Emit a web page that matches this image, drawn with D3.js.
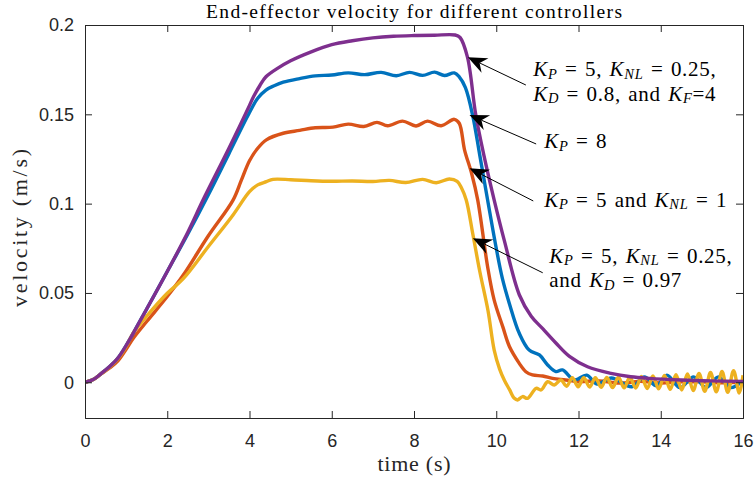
<!DOCTYPE html>
<html><head><meta charset="utf-8">
<script src="https://cdn.jsdelivr.net/npm/d3@7"></script>
<style>body{margin:0;background:#fff}</style>
</head><body><svg id="c" width="754" height="482"></svg>
<script>
// ---------- data ----------
const xTicks = [0, 2, 4, 6, 8, 10, 12, 14, 16];
const yTicks = [0, 0.05, 0.1, 0.15, 0.2];
const yTickLabels = ["0", "0.05", "0.1", "0.15", "0.2"];

const tPurple = [0,0.2,0.4,0.6,0.8,1,1.5,2,2.5,2.87,3.5,4,4.1,4.25,4.4,4.7,5,5.5,6,6.5,7,7.5,8,8.5,9,9.12,9.3,9.5,9.7,9.95,10.2,10.56,10.85,11.13,11.45,11.78,12.22,12.79,13.27,13.72,14.5,15.2,16];
const vPurple = [0,0.0015,0.005,0.0088,0.0135,0.0205,0.041,0.062,0.084,0.102,0.131,0.155,0.160,0.166,0.171,0.176,0.180,0.185,0.189,0.1912,0.1928,0.1937,0.1941,0.1943,0.1944,0.193,0.182,0.150,0.127,0.102,0.079,0.049,0.037,0.030,0.022,0.0145,0.0087,0.005,0.0031,0.0022,0.0013,0.0008,0.0005];

const tBlue = [0,0.2,0.4,0.6,0.8,1,1.5,2,2.5,3,3.5,4,4.2,4.4,4.6,4.82,5.22,5.6,6.0,6.4,6.8,7.2,7.57,7.89,8.21,8.5,8.74,8.98,9.1,9.25,9.43,9.6,9.79,10.0,10.15,10.32,10.56,10.8,11.05,11.25,11.45,11.61,11.9,12.2,12.45,12.8,13.3,13.6,13.9,14.15,14.47,14.8,15.1,15.4,15.7,16];
const vBlue = [0,0.0015,0.005,0.0088,0.0135,0.0205,0.041,0.062,0.083,0.105,0.128,0.151,0.159,0.1636,0.166,0.168,0.170,0.1715,0.172,0.1732,0.1722,0.1735,0.1716,0.1735,0.1718,0.1736,0.1717,0.1732,0.171,0.165,0.149,0.127,0.102,0.075,0.058,0.044,0.0274,0.018,0.0153,0.0097,0.006,0.0069,0.0013,0.004,-0.001,0.0024,-0.0025,0.003,-0.002,0.004,-0.003,0.003,-0.003,0.003,-0.003,0.001];

const tOrange = [0,0.2,0.4,0.6,0.8,1,1.17,1.5,2,2.39,3,3.6,3.8,4,4.2,4.41,4.82,5.22,5.6,6.03,6.4,6.78,7.1,7.36,7.72,8.05,8.33,8.66,8.98,9.1,9.23,9.4,9.55,9.79,9.95,10.16,10.32,10.56,10.72,10.88,11.13,11.37,11.69,12,12.5,13,13.5,14,14.5,15,15.5,16];
const vOrange = [0,0.0015,0.0048,0.008,0.012,0.0185,0.0245,0.034,0.048,0.060,0.082,0.102,0.113,0.124,0.131,0.1357,0.1394,0.141,0.1425,0.1428,0.1445,0.1432,0.1455,0.1436,0.1462,0.1435,0.1462,0.1436,0.1472,0.145,0.130,0.117,0.102,0.0647,0.046,0.031,0.020,0.0106,0.0059,0.0041,0.0035,0.0022,0.0013,0.0003,0.0008,-0.0005,0.0005,-0.0004,0.0003,0.0002,-0.0003,0.0003];

const tYellow = [0,0.2,0.4,0.6,0.8,1,1.17,1.5,2,2.39,3,3.6,4,4.2,4.41,4.57,5,5.5,6,6.5,7,7.4,7.8,8.21,8.54,8.86,9.05,9.15,9.27,9.43,9.6,9.8,9.95,10.08,10.2,10.32,10.44,10.52,10.64,10.76,10.97,11.09,11.25,11.41,11.57,11.71,11.85,11.99,12.13,12.27,12.41,12.55,12.69,12.83,12.97,13.11,13.25,13.39,13.53,13.67,13.81,13.95,14.09,14.23,14.37,14.51,14.65,14.79,14.93,15.07,15.21,15.35,15.49,15.63,15.77,15.91,16];
const vYellow = [0,0.0015,0.005,0.0086,0.0132,0.020,0.0275,0.037,0.0498,0.058,0.076,0.0937,0.1067,0.1105,0.1123,0.1136,0.1134,0.1128,0.1125,0.1127,0.1124,0.1130,0.1118,0.1136,0.1117,0.1138,0.1125,0.109,0.102,0.083,0.062,0.040,0.018,0.0075,0.001,-0.004,-0.009,-0.0099,-0.008,-0.009,-0.0034,-0.0043,0.0003,-0.0015,0.0013,-0.0022,0.0025,-0.0025,0.0025,-0.0027,0.0026,-0.0028,0.0027,-0.003,0.0028,-0.0031,0.003,-0.0033,0.0032,-0.0035,0.0035,-0.0037,0.0038,-0.004,0.0042,-0.0043,0.0046,-0.0046,0.005,-0.005,0.0055,-0.0053,0.006,-0.0056,0.0065,-0.006,0.004];

const seriesNames = ["orange", "blue", "yellow", "purple"]; // drawing order
const seriesT = {purple: tPurple, blue: tBlue, orange: tOrange, yellow: tYellow};
const seriesV = {purple: vPurple, blue: vBlue, orange: vOrange, yellow: vYellow};
const seriesColor = {blue: "#0072BD", orange: "#D95319", yellow: "#EDB120", purple: "#7E2F8E"};

// annotation text: each label = list of lines; line = segments [text, style]
// style: "" upright, "i" italic, "s" italic subscript
const labelLines = [
  [
    [["K","i"],["P","s"],[" = 5, ",""],["K","i"],["NL","s"],[" = 0.25,",""]],
    [["K","i"],["D","s"],[" = 0.8, and ",""],["K","i"],["F","s"],["=4",""]]
  ],
  [
    [["K","i"],["P","s"],[" = 8",""]]
  ],
  [
    [["K","i"],["P","s"],[" = 5 and ",""],["K","i"],["NL","s"],[" = 1",""]]
  ],
  [
    [["K","i"],["P","s"],[" = 5, ",""],["K","i"],["NL","s"],[" = 0.25,",""]],
    [["and ",""],["K","i"],["D","s"],[" = 0.97",""]]
  ]
];
// label anchor (first baseline) in data coords: time, velocity
const labelT = [10.9, 11.17, 11.17, 11.29];
const labelV = [0.1714, 0.1310, 0.0983, 0.0669];
// arrows: tip and tail in data coords
const arrowTipT = [9.31, 9.35, 9.35, 9.43];
const arrowTipV = [0.1819, 0.1496, 0.1198, 0.0806];
const arrowTailT = [10.72, 10.97, 10.90, 11.13];
const arrowTailV = [0.1664, 0.1334, 0.1015, 0.0613];

// ---------- chart ----------
const svg = d3.select("#c");
const L = 85, R = 743, T = 25, B = 418;
const x = d3.scaleLinear().domain([0, 16]).range([L, R]);
const y = d3.scaleLinear().domain([-0.02, 0.2]).range([B, T]);
const axisColor = "#262626";
const sans = "'Liberation Sans', Arial, sans-serif";
const serif = "'Liberation Serif', 'Times New Roman', serif";

svg.append("rect").attr("width", 754).attr("height", 482).attr("fill", "#fff");

svg.append("defs").append("clipPath").attr("id", "clip")
  .append("rect").attr("x", L).attr("y", T).attr("width", R - L).attr("height", B - T);

// series
const line = d3.line().curve(d3.curveCatmullRom.alpha(0.5));
const g = svg.append("g").attr("clip-path", "url(#clip)");
seriesNames.forEach(n => {
  const pts = seriesT[n].map((t, i) => [x(t), y(seriesV[n][i])]);
  g.append("path").attr("d", line(pts)).attr("fill", "none")
    .attr("stroke", seriesColor[n]).attr("stroke-width", 3.4)
    .attr("stroke-linejoin", "round").attr("stroke-linecap", "butt");
});

// axes with ticks on all sides (inward)
const tl = 7;
const axB = d3.axisBottom(x).tickValues(xTicks).tickSize(-tl).tickPadding(16).tickFormat(d3.format("d"));
const axT = d3.axisTop(x).tickValues(xTicks).tickSize(-tl).tickFormat("");
const axLft = d3.axisLeft(y).tickValues(yTicks).tickSize(-tl).tickPadding(11).tickFormat((d, i) => yTickLabels[i]);
const axRt = d3.axisRight(y).tickValues(yTicks).tickSize(-tl).tickFormat("");

function style(sel) {
  sel.selectAll("path").attr("stroke", axisColor).attr("stroke-width", 1);
  sel.selectAll("line").attr("stroke", axisColor).attr("stroke-width", 1);
  sel.selectAll("text").attr("fill", axisColor).style("font-family", sans).style("font-size", "18px");
}
svg.append("g").attr("transform", `translate(0,${B})`).call(axB).call(style);
svg.append("g").attr("transform", `translate(0,${T})`).call(axT).call(style);
svg.append("g").attr("transform", `translate(${L},0)`).call(axLft).call(style);
svg.append("g").attr("transform", `translate(${R},0)`).call(axRt).call(style);

// title and axis labels
svg.append("text").attr("x", (L + R) / 2).attr("y", 17.5).attr("text-anchor", "middle")
  .style("font-family", serif).style("font-size", "19.5px").attr("fill", "#000")
  .attr("textLength", 416).attr("lengthAdjust", "spacing")
  .text("End-effector velocity for different controllers");
svg.append("text").attr("x", (L + R) / 2).attr("y", 471).attr("text-anchor", "middle")
  .style("font-family", serif).style("font-size", "22px").attr("fill", axisColor)
  .attr("textLength", 73).attr("lengthAdjust", "spacing")
  .text("time (s)");
svg.append("text").attr("transform", `translate(27,228) rotate(-90)`).attr("text-anchor", "middle")
  .style("font-family", serif).style("font-size", "22px").attr("fill", axisColor)
  .attr("textLength", 158).attr("lengthAdjust", "spacing")
  .text("velocity (m/s)");

// annotations
const fs = 21, sub = 14.5, drop = 2.5, lineGap = 24.5;
labelLines.forEach((lines, k) => {
  const x0 = x(labelT[k]);
  const t = svg.append("text").attr("x", x0).attr("y", y(labelV[k]))
    .style("font-family", serif).style("font-size", fs + "px").attr("fill", "#000")
    .style("letter-spacing", "0.7px").style("word-spacing", "1.5px");
  lines.forEach((segs, li) => {
    let shift = 0;
    segs.forEach(([txt, st], si) => {
      const sp = t.append("tspan").text(txt).attr("xml:space", "preserve").style("white-space", "pre");
      let dy = 0;
      if (si === 0) { sp.attr("x", x0); if (li > 0) dy += lineGap; }
      if (st === "i" || st === "s") sp.style("font-style", "italic");
      if (st === "s") { sp.style("font-size", sub + "px"); if (shift === 0) { dy += drop; shift = drop; } }
      else if (shift !== 0) { dy -= shift; shift = 0; }
      if (dy !== 0) sp.attr("dy", dy);
    });
  });
});

// arrows
const HL = 19, HW = 8, HN = 13;
arrowTipT.forEach((_, k) => {
  const tx = x(arrowTipT[k]), ty = y(arrowTipV[k]);
  const sx = x(arrowTailT[k]), sy = y(arrowTailV[k]);
  const dx = sx - tx, dy = sy - ty, len = Math.hypot(dx, dy);
  const ux = dx / len, uy = dy / len, px = -uy, py = ux;
  svg.append("line").attr("x1", sx).attr("y1", sy).attr("x2", tx + ux * HN).attr("y2", ty + uy * HN)
    .attr("stroke", "#000").attr("stroke-width", 1);
  const pts = [[tx, ty], [tx + ux * HL + px * HW, ty + uy * HL + py * HW], [tx + ux * HN, ty + uy * HN],
               [tx + ux * HL - px * HW, ty + uy * HL - py * HW]];
  svg.append("path").attr("d", "M" + pts.map(p => p.join(",")).join("L") + "Z").attr("fill", "#000");
});
</script></body></html>
